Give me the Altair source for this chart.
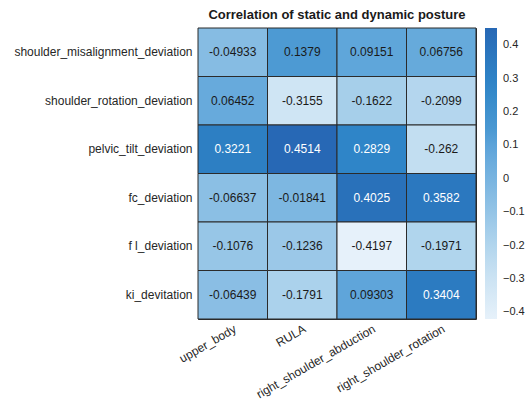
import altair as alt
import pandas as pd

# Static posture deviations (rows) vs dynamic posture measures (columns)
rows = [
    "shoulder_misalignment_deviation",
    "shoulder_rotation_deviation",
    "pelvic_tilt_deviation",
    "fc_deviation",
    "f l_deviation",
    "ki_devitation",
]
cols = ["upper_body", "RULA", "right_shoulder_abduction", "right_shoulder_rotation"]

corr = [
    [-0.04933, 0.1379, 0.09151, 0.06756],
    [0.06452, -0.3155, -0.1622, -0.2099],
    [0.3221, 0.4514, 0.2829, -0.262],
    [-0.06637, -0.01841, 0.4025, 0.3582],
    [-0.1076, -0.1236, -0.4197, -0.1971],
    [-0.06439, -0.1791, 0.09303, 0.3404],
]
labels = [
    ["-0.04933", "0.1379", "0.09151", "0.06756"],
    ["0.06452", "-0.3155", "-0.1622", "-0.2099"],
    ["0.3221", "0.4514", "0.2829", "-0.262"],
    ["-0.06637", "-0.01841", "0.4025", "0.3582"],
    ["-0.1076", "-0.1236", "-0.4197", "-0.1971"],
    ["-0.06439", "-0.1791", "0.09303", "0.3404"],
]

# Colour ramp stops (value -> colour)
ramp_values = [-0.4197, -0.3, -0.2, -0.05, 0.09, 0.14, 0.28, 0.4514]
ramp_colors = ["#e6f1fa", "#cce3f3", "#b1d5ed", "#86bce3", "#60a6da",
               "#4c99d3", "#2f86c8", "#2768b5"]
legend_ticks = [-0.4, -0.3, -0.2, -0.1, 0, 0.1, 0.2, 0.3, 0.4]

records = []
for i, r in enumerate(rows):
    for j, c in enumerate(cols):
        records.append({"row": r, "col": c, "value": corr[i][j], "label": labels[i][j]})
df = pd.DataFrame(records)

FONT = "Liberation Sans"

base = alt.Chart(df).encode(
    x=alt.X("col:N", sort=cols, title=None,
            axis=alt.Axis(labelAngle=-30, labelFontSize=12, labelFont=FONT,
                          labelColor="#262626", ticks=False, domain=False,
                          labelPadding=4)),
    y=alt.Y("row:N", sort=rows, title=None,
            axis=alt.Axis(labelFontSize=12, labelFont=FONT, labelColor="#262626",
                          ticks=False, domain=False, labelPadding=6)),
)

cells = base.mark_rect(stroke="#2b2b2b", strokeWidth=1).encode(
    color=alt.Color(
        "value:Q",
        scale=alt.Scale(domain=ramp_values, range=ramp_colors, interpolate="rgb"),
        legend=alt.Legend(
            title=None, values=legend_ticks, gradientLength=291,
            gradientThickness=12, labelFontSize=11, labelFont=FONT,
            labelColor="#262626", offset=9, labelOffset=6,
            gradientStrokeWidth=0, padding=0,
            labelExpr="datum.value == 0 ? '0' : format(datum.value, '.1f')",
        ),
    )
)

text = base.mark_text(fontSize=12, font=FONT).encode(
    text="label:N",
    color=alt.condition("datum.value > 0.2", alt.value("white"), alt.value("#1a1a1a")),
)

chart = (
    (cells + text)
    .properties(
        width=278,
        height=291,
        title=alt.TitleParams("Correlation of static and dynamic posture",
                              fontSize=13, font=FONT, fontWeight="bold",
                              color="#1a1a1a", offset=6),
        autosize=alt.AutoSizeParams(type="none"),
        padding={"left": 198, "top": 28, "right": 52, "bottom": 84},
    )
    .configure_view(stroke="#2b2b2b", strokeWidth=1)
)

chart.save("out.html", embed_options={"renderer": "svg", "actions": False})
